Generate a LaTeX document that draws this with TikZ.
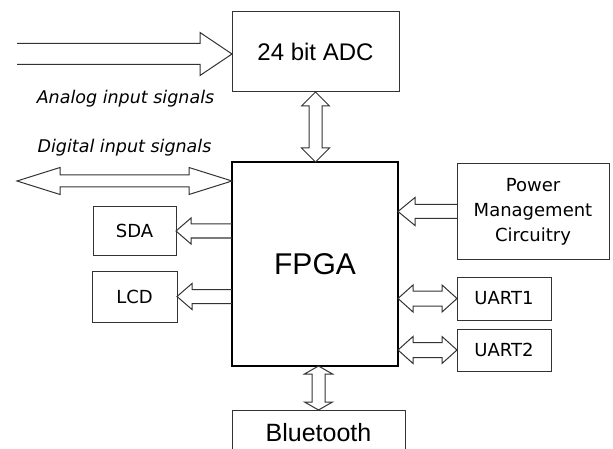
\documentclass[tikz,border=0pt]{standalone}
\usepackage{fontspec}
\setmainfont{Liberation Sans}
\newfontfamily\tahoma{DejaVu Sans}
\usetikzlibrary{calc}

% block arrow: tail, tip, half shaft, half head, head length
\newcommand{\onearrow}[5]{%
  \coordinate (hb) at ($(#2)!#5!(#1)$);
  \draw[blockarrow] ($(#1)!#3!90:(#2)$) -- ($(hb)!#3!-90:(#1)$) -- ($(hb)!#4!-90:(#1)$) -- (#2)
    -- ($(hb)!#4!90:(#1)$) -- ($(hb)!#3!90:(#1)$) -- ($(#1)!#3!-90:(#2)$);
}
% block arrow with two heads: tip, tip, half shaft, half head, head length
\newcommand{\twoarrow}[5]{%
  \coordinate (ha) at ($(#1)!#5!(#2)$);
  \coordinate (hb) at ($(#2)!#5!(#1)$);
  \draw[blockarrow] (#1) -- ($(ha)!#4!90:(#2)$) -- ($(ha)!#3!90:(#2)$) -- ($(hb)!#3!-90:(#1)$)
    -- ($(hb)!#4!-90:(#1)$) -- (#2) -- ($(hb)!#4!90:(#1)$) -- ($(hb)!#3!90:(#1)$)
    -- ($(ha)!#3!-90:(#2)$) -- ($(ha)!#4!-90:(#2)$) -- cycle;
}

\begin{document}
\begin{tikzpicture}[x=1pt, y=-1pt,
    box/.style={draw=black!80, line width=1pt, inner sep=0pt, outer sep=0pt, align=center},
    smallfont/.style={font=\tahoma\fontsize{18}{25}\selectfont},
    slanted/.style={anchor=base, font=\tahoma\itshape\fontsize{17.5}{21}\selectfont},
    blockarrow/.style={draw=black!80, line width=1pt}]
\clip (0,0) rectangle (613,449);

% Blocs
\node[box, font=\fontsize{24}{29}\selectfont, minimum width=167pt, minimum height=80pt] (adc) at (315.5,52) {24 bit ADC};
\node[box, draw=black, line width=2pt, font=\fontsize{30}{36}\selectfont, minimum width=166pt, minimum height=204pt] (fpga) at (315,264) {FPGA};
\node[box, smallfont, minimum width=83pt, minimum height=48pt] (sda) at (134.5,231) {SDA};
\node[box, smallfont, minimum width=85pt, minimum height=51pt] (lcd) at (134.5,296.5) {LCD};
\node[box, smallfont, minimum width=152pt, minimum height=95pt] (power) at (533,211.5) {Power\\Management\\Circuitry};
\node[box, smallfont, minimum width=94pt, minimum height=43pt] (uart1) at (504,298.5) {UART1};
\node[box, smallfont, minimum width=94pt, minimum height=42pt] (uart2) at (504,350) {UART2};
\node[box, font=\fontsize{25}{30}\selectfont, minimum width=173pt, minimum height=46pt] (bt) at (318.5,433) {Bluetooth};

% Textes
\node[slanted] (analoglbl) at (125.5,104) {Analog input signals};
\node[slanted] (digitallbl) at (124.5,153) {Digital input signals};

% Points d'attache
\coordinate (anin) at (17,54);
\coordinate (anend) at (anin -| adc.west);
\coordinate (digin) at (17,181);
\coordinate (digend) at (digin -| fpga.west);
\coordinate (fpgatop) at (adc.south |- fpga.north);
\coordinate (fpgabot) at (fpga.south -| bt.north);
\coordinate (sdaout) at (fpga.west |- sda.east);
\coordinate (lcdout) at (fpga.west |- lcd.east);
\coordinate (powin) at (fpga.east |- power.west);
\coordinate (uartone) at (fpga.east |- uart1.west);
\coordinate (uarttwo) at (fpga.east |- uart2.west);

% Fleches
\onearrow{anin}{anend}{10.5pt}{21.5pt}{32pt}
\twoarrow{digin}{digend}{6pt}{13.5pt}{43pt}
\twoarrow{adc.south}{fpgatop}{6.5pt}{14pt}{14pt}
\twoarrow{fpgabot}{bt.north}{6.5pt}{14pt}{8pt}
\onearrow{sdaout}{sda.east}{7pt}{13pt}{15pt}
\onearrow{lcdout}{lcd.east}{7pt}{13pt}{15pt}
\onearrow{power.west}{powin}{7pt}{14pt}{17pt}
\twoarrow{uartone}{uart1.west}{7.5pt}{13.5pt}{15pt}
\twoarrow{uarttwo}{uart2.west}{7.5pt}{13.5pt}{15pt}
\end{tikzpicture}
\end{document}
